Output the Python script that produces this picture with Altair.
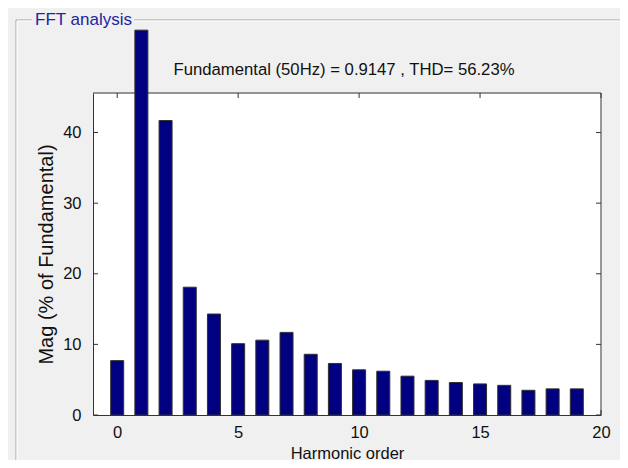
import altair as alt
import pandas as pd

# ---- data ----
harmonic = list(range(20))
magnitude = [7.7, 54.5, 41.7, 18.1, 14.3, 10.1, 10.6, 11.7, 8.6, 7.3,
             6.4, 6.2, 5.5, 4.9, 4.6, 4.4, 4.2, 3.5, 3.7, 3.7]
x_ticks = [0, 5, 10, 15, 20]
y_ticks = [0, 10, 20, 30, 40]
x_domain = [-1, 20]
y_domain = [0, 45.6]
title_text = "Fundamental (50Hz) = 0.9147 , THD= 56.23%"
panel_title = "FFT analysis"
x_title = "Harmonic order"
y_title = "Mag (% of Fundamental)"

FONT = "'Liberation Sans', Arial, sans-serif"
W, H = 508, 322
FRAME = "#333333"
BG = "#f0f0f0"
TXT = "#111111"

bars_df = pd.DataFrame({"h": harmonic, "mag": magnitude})
xt_df = pd.DataFrame({"v": x_ticks})
yt_df = pd.DataFrame({"v": y_ticks})
one = pd.DataFrame({"a": [0]})

xs = alt.Scale(domain=x_domain, nice=False, zero=False, padding=0)
ys = alt.Scale(domain=y_domain, nice=False, padding=0)

x_axis = alt.Axis(
    values=x_ticks, ticks=False, grid=False, domainColor=FRAME, labelFlush=False,
    labelFont=FONT, labelFontSize=16.5, labelColor=TXT, labelPadding=9,
    title=x_title, titleFont=FONT, titleFontSize=16.5, titleFontWeight="normal",
    titleColor=TXT, titleBaseline="top", titleY=30)
y_axis = alt.Axis(
    values=y_ticks, ticks=False, grid=False, domainColor=FRAME,
    labelFont=FONT, labelFontSize=16.5, labelColor=TXT, labelPadding=12,
    title=y_title, titleFont=FONT, titleFontSize=20, titleFontWeight="normal",
    titleColor=TXT, titlePadding=6)

# frame top/right (drawn under the bars)
frame_top = alt.Chart(one).mark_rule(color=FRAME, strokeWidth=1).encode(
    x=alt.value(0), x2=alt.value(W), y=alt.value(0))
frame_right = alt.Chart(one).mark_rule(color=FRAME, strokeWidth=1).encode(
    x=alt.value(W), y=alt.value(0), y2=alt.value(H))

# inward ticks
yl = alt.Chart(yt_df).mark_rule(color=FRAME, strokeWidth=1).encode(
    y=alt.Y("v:Q", scale=ys, axis=y_axis), x=alt.value(0), x2=alt.value(5))
yr = alt.Chart(yt_df).mark_rule(color=FRAME, strokeWidth=1).encode(
    y=alt.Y("v:Q", scale=ys, axis=y_axis), x=alt.value(W - 5), x2=alt.value(W))
xt = alt.Chart(xt_df).mark_rule(color=FRAME, strokeWidth=1).encode(
    x=alt.X("v:Q", scale=xs, axis=x_axis), y=alt.value(0), y2=alt.value(5))
xb = alt.Chart(xt_df).mark_rule(color=FRAME, strokeWidth=1).encode(
    x=alt.X("v:Q", scale=xs, axis=x_axis), y=alt.value(H - 5), y2=alt.value(H))

bars = alt.Chart(bars_df).mark_bar(size=13, color="#000080", stroke="#303030",
                                   strokeWidth=1, clip=False).encode(
    x=alt.X("h:Q", scale=xs, axis=x_axis),
    y=alt.Y("mag:Q", scale=ys, axis=y_axis),
)

# panel (uipanel) decoration
PX, PY = -77, -73
panel_lines = []
for dx, col in [(0, "#a0a0a0"), (1, "#ffffff")]:
    panel_lines.append(alt.Chart(one).mark_rule(color=col, strokeWidth=1).encode(
        x=alt.value(PX + dx), x2=alt.value(-61), y=alt.value(PY + dx)))
    panel_lines.append(alt.Chart(one).mark_rule(color=col, strokeWidth=1).encode(
        x=alt.value(41), x2=alt.value(W + 60), y=alt.value(PY + dx)))
    panel_lines.append(alt.Chart(one).mark_rule(color=col, strokeWidth=1).encode(
        x=alt.value(PX + dx), y=alt.value(PY + dx), y2=alt.value(H + 80)))

panel_text = alt.Chart(one).mark_text(font=FONT, fontSize=17, color="#2323a0",
                                      align="left", baseline="middle").encode(
    x=alt.value(-58), y=alt.value(PY), text=alt.value(panel_title))

title_mark = alt.Chart(one).mark_text(font=FONT, fontSize=16.7, color=TXT,
                                      align="center", baseline="middle").encode(
    x=alt.value(W / 2 - 3), y=alt.value(-23), text=alt.value(title_text))

chart = alt.layer(
    *panel_lines, panel_text, title_mark, frame_top, frame_right, yl, yr, xt, xb, bars
).properties(
    width=W, height=H,
    autosize="none",
    padding={"left": 85, "top": 85, "right": 19, "bottom": 45},
    background=BG,
).configure_view(fill="white", stroke="transparent")

chart.save("out.html", embed_options={"renderer": "svg", "actions": False})
